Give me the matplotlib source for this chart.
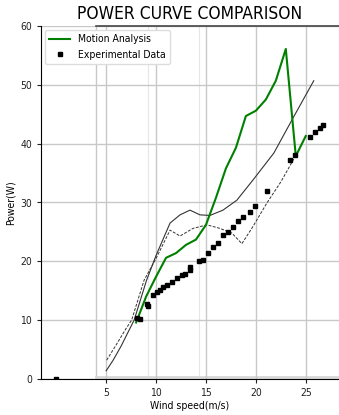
import matplotlib
matplotlib.use("Agg")
import matplotlib.pyplot as plt

# Motion analysis (green line)
ma_x = [8, 9, 10, 11, 12, 13, 14, 15, 16, 17, 18, 19, 20, 21, 22, 23, 24, 25]
ma_y = [9.6, 14.0, 17.4, 20.6, 21.4, 22.8, 23.7, 26.2, 30.8, 35.8, 39.3, 44.7, 45.6, 47.5, 50.7, 56.1, 37.9, 41.3]

# Experimental data (black markers)
exp_x = [0.0, 8.07, 8.4, 9.1, 9.2, 9.7, 10.1, 10.4, 10.7, 11.1, 11.6, 12.1, 12.6, 12.9,
         13.4, 13.4, 14.3, 14.7, 15.2, 15.7, 16.2, 16.7, 17.2, 17.7, 18.2, 18.7, 19.4,
         19.9, 21.1, 23.4, 23.9, 25.4, 25.9, 26.4, 26.7]
exp_y = [0.0, 10.3, 10.2, 12.7, 12.4, 14.3, 14.8, 15.1, 15.6, 15.9, 16.5, 17.1, 17.7, 17.9,
         18.5, 19.1, 20.0, 20.2, 21.4, 22.5, 23.1, 24.5, 25.0, 25.9, 26.8, 27.6, 28.4,
         29.4, 32.0, 37.3, 38.1, 41.2, 42.0, 42.6, 43.2]

# Background reference curves (thin black)
ref1_x = [5.0, 5.7, 6.5, 7.0, 7.8, 9.05, 10.0, 11.4, 12.4, 13.4, 14.4, 15.4, 16.7, 18.1, 19.7, 21.8, 23.8, 25.8]
ref1_y = [1.4, 3.2, 5.6, 7.3, 10.0, 16.8, 21.0, 26.5, 27.9, 28.7, 27.9, 27.8, 28.7, 30.4, 33.8, 38.4, 44.6, 50.7]
ref2_x = [5.05, 6.0, 7.0, 7.55, 8.8, 10.0, 11.4, 12.4, 13.7, 15.1, 16.4, 17.6, 18.6, 19.7, 21.1, 22.5, 24.0]
ref2_y = [3.2, 5.8, 8.6, 10.0, 16.8, 20.5, 25.3, 24.3, 25.6, 26.2, 25.6, 24.8, 23.0, 25.9, 29.9, 33.5, 38.0]

plt.rcParams['font.family'] = ['DejaVu Sans']
plt.rcParams['font.stretch'] = 'condensed'

fig = plt.figure(figsize=(3.39, 4.15), dpi=100)
ax = fig.add_axes([41/339, 1 - 379/415, 1 - 41/339, (379 - 26)/415])

ax.set_xlim(-1.53, 28.33)
ax.set_ylim(0, 60)
ax.set_xticks([5, 10, 15, 20, 25])
ax.set_yticks([0, 10, 20, 30, 40, 50, 60])
ax.grid(True, color="#c8c8c8", linewidth=1.0)
ax.set_axisbelow(True)
for s in ["top", "right"]:
    ax.spines[s].set_visible(False)

# image-edge artifacts of the reference
ax.plot([4.0, 28.33], [60, 60], color="#444444", lw=1.2, clip_on=False, zorder=1)
ax.axvline(4.0, color="#c8c8c8", lw=1.0, zorder=0)
ax.axvline(9.15, color="#e6e6e6", lw=0.8, zorder=0)
ax.axvline(14.3, color="#e6e6e6", lw=0.8, zorder=0)
ax.plot([4.0, 28.33], [0.35, 0.35], color="#d8d8d8", lw=2.0, zorder=0)

ax.plot(ref1_x, ref1_y, color="#333333", lw=0.8, zorder=2)
ax.plot(ref2_x, ref2_y, color="#333333", lw=0.7, ls=(0, (3, 1.5)), zorder=2)

ax.plot(ma_x, ma_y, color="green", lw=1.5, label="Motion Analysis", zorder=3)
ax.plot(exp_x, exp_y, ls="none", marker="s", ms=2.2, color="black",
        label="Experimental Data", zorder=4)

ax.tick_params(labelsize=7.5, length=3, width=0.8, colors="#222222")
ax.set_xlabel("Wind speed(m/s)", fontsize=7.5, labelpad=2)
ax.set_ylabel("Power(W)", fontsize=7.5, labelpad=3)
ax.set_title("POWER CURVE COMPARISON", fontsize=12.5, pad=5)
ax.legend(loc="upper left", fontsize=7.5, frameon=True, framealpha=1.0,
          edgecolor="#dddddd", handlelength=2.0, borderaxespad=0.4)

fig.savefig("out.png", dpi=100)
